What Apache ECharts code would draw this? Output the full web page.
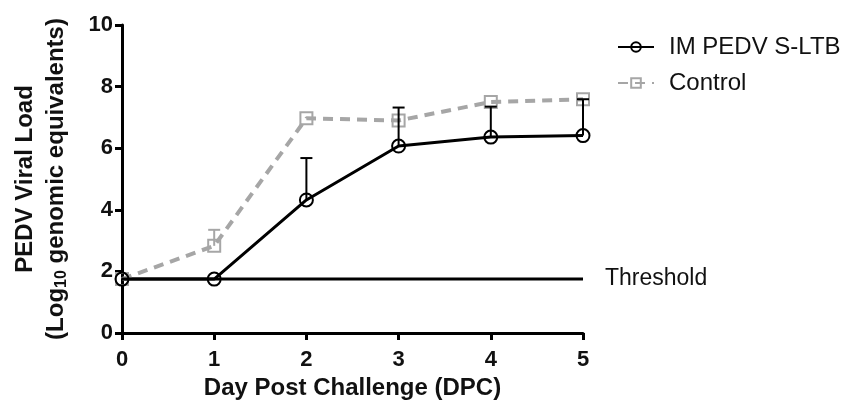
<!DOCTYPE html>
<html>
<head>
<meta charset="utf-8">
<script src="https://cdn.jsdelivr.net/npm/echarts@6/dist/echarts.min.js"></script>
<style>
  html, body { margin: 0; padding: 0; background: #fff; }
  #chart { width: 850px; height: 408px; }
</style>
</head>
<body>
<div id="chart"></div>
<script>
const days = [0, 1, 2, 3, 4, 5];
const imMean = [1.75, 1.75, 4.32, 6.07, 6.36, 6.41];
const imErr = [0, 0, 1.36, 1.25, 0.99, 1.18];
const controlMean = [1.75, 2.83, 6.97, 6.90, 7.50, 7.59];
const controlErr = [0, 0.52, 0, 0, 0, 0];
const thresholdValue = 1.75;

const FONT = "'Liberation Sans', Arial, Helvetica, sans-serif";

function pairs(xs, ys) { return xs.map((x, i) => [x, ys[i]]); }
function errData(xs, ys, es) { return xs.map((x, i) => [x, ys[i], ys[i] + es[i]]); }

function errorBar(color) {
  return function (params, api) {
    const x = api.value(0), lo = api.value(1), hi = api.value(2);
    if (hi <= lo) return null;
    const p0 = api.coord([x, lo]);
    const p1 = api.coord([x, hi]);
    const style = { stroke: color, lineWidth: 2 };
    return {
      type: 'group',
      children: [
        { type: 'line', shape: { x1: p0[0], y1: p0[1], x2: p1[0], y2: p1[1] }, style: style },
        { type: 'line', shape: { x1: p1[0] - 6, y1: p1[1], x2: p1[0] + 6, y2: p1[1] }, style: style }
      ]
    };
  };
}

const chart = echarts.init(document.getElementById('chart'));
const option = {
  animation: false,
  textStyle: { fontFamily: FONT },
  grid: { left: 122, right: 267, top: 25, bottom: 75 },
  legend: {
    data: ['IM PEDV S-LTB', 'Control'],
    orient: 'vertical',
    left: 612,
    top: 30,
    itemWidth: 36,
    itemHeight: 12,
    itemGap: 12,
    textStyle: { fontSize: 24, color: '#111', fontFamily: FONT, padding: [0, 0, 0, 10] }
  },
  xAxis: {
    type: 'value',
    min: 0, max: 5, interval: 1,
    name: 'Day Post Challenge (DPC)',
    nameLocation: 'middle',
    nameGap: 43,
    nameTextStyle: { fontSize: 24, fontWeight: 'bold', color: '#111', fontFamily: FONT },
    axisLine: { lineStyle: { color: '#000', width: 3 } },
    axisTick: { length: 7, lineStyle: { color: '#000', width: 3 } },
    axisLabel: { fontSize: 22, fontWeight: 'bold', color: '#111', margin: 16, fontFamily: FONT },
    splitLine: { show: false }
  },
  yAxis: {
    type: 'value',
    min: 0, max: 10, interval: 2,
    name: '{b|PEDV Viral Load}\n{b|(Log}{sub|10}{b| genomic equivalents)}',
    nameLocation: 'middle',
    nameGap: 50,
    nameTextStyle: {
      rich: {
        b: { fontSize: 24, fontWeight: 'bold', color: '#111', fontFamily: FONT, lineHeight: 31 },
        sub: { fontSize: 16, fontWeight: 'bold', color: '#111', fontFamily: FONT, padding: [10, 0, 0, 0], lineHeight: 31 }
      }
    },
    axisLine: { show: true, lineStyle: { color: '#000', width: 3 } },
    axisTick: { show: true, length: 7, lineStyle: { color: '#000', width: 3 } },
    axisLabel: { fontSize: 22, fontWeight: 'bold', color: '#111', margin: 9, fontFamily: FONT },
    splitLine: { show: false }
  },
  series: [
    {
      name: 'Threshold',
      type: 'line',
      data: pairs([days[0], days[days.length - 1]], [thresholdValue, thresholdValue]),
      symbol: 'none',
      lineStyle: { color: '#000', width: 3 },
      endLabel: { show: true, formatter: 'Threshold', fontSize: 23, color: '#111', distance: 22, fontFamily: FONT },
      z: 1
    },
    {
      name: 'Control',
      type: 'line',
      data: pairs(days, controlMean),
      symbol: 'rect',
      symbolSize: 12,
      lineStyle: { color: '#a6a6a6', width: 4, type: [10, 7] },
      itemStyle: { color: 'rgba(255,255,255,0)', borderColor: '#a6a6a6', borderWidth: 2 },
      z: 2
    },
    {
      name: 'Control err',
      type: 'custom',
      data: errData(days, controlMean, controlErr),
      renderItem: errorBar('#a6a6a6'),
      z: 3
    },
    {
      name: 'IM PEDV S-LTB',
      type: 'line',
      data: pairs(days, imMean),
      symbol: 'circle',
      symbolSize: 13,
      lineStyle: { color: '#000', width: 3 },
      itemStyle: { color: 'rgba(255,255,255,0)', borderColor: '#000', borderWidth: 2 },
      z: 4
    },
    {
      name: 'IM err',
      type: 'custom',
      data: errData(days, imMean, imErr),
      renderItem: errorBar('#000'),
      z: 5
    }
  ]
};
chart.setOption(option);
window.addEventListener('resize', () => chart.resize());
</script>
</body>
</html>
